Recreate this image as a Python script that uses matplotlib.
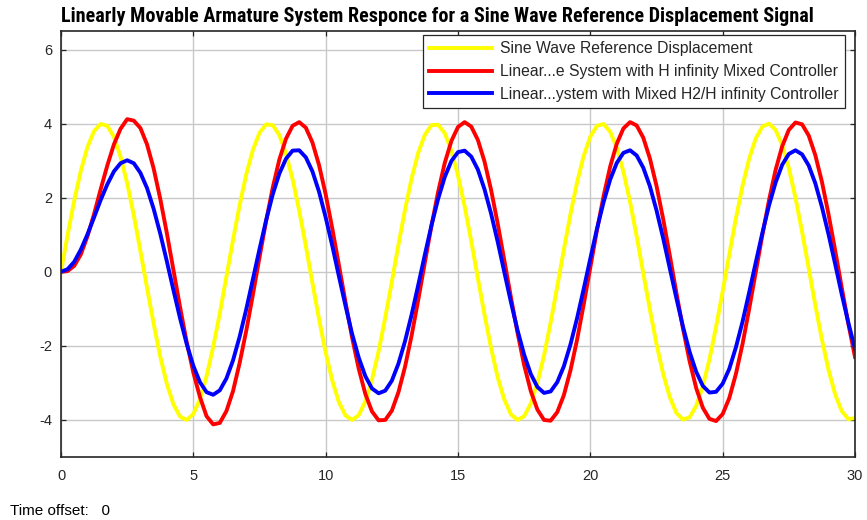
import numpy as np
import matplotlib
matplotlib.use('Agg')
import matplotlib.pyplot as plt
from matplotlib import font_manager

# sample times (s), step 0.25
time = np.round(np.arange(0, 30.0001, 0.25), 2)
yellow = [0,0.99,1.92,2.73,3.37,3.8,3.99,3.94,3.64,3.11,2.39,1.53,0.56,-0.43,-1.4,-2.29,-3.03,-3.58,-3.91,-4,-3.84,-3.44,-2.82,-2.03,-1.12,-0.13,0.86,1.8,2.63,3.29,3.75,3.98,3.96,3.69,3.19,2.5,1.65,0.7,-0.3,-1.28,-2.18,-2.94,-3.52,-3.88,-4,-3.87,-3.5,-2.91,-2.15,-1.24,-0.27,0.73,1.68,2.53,3.22,3.7,3.96,3.97,3.74,3.27,2.6,1.77,0.83,-0.17,-1.15,-2.06,-2.85,-3.45,-3.85,-4,-3.9,-3.56,-3,-2.26,-1.37,-0.4,0.6,1.56,2.42,3.13,3.65,3.94,3.99,3.78,3.35,2.7,1.89,0.96,-0.04,-1.02,-1.95,-2.75,-3.38,-3.81,-3.99,-3.93,-3.62,-3.09,-2.37,-1.49,-0.53,0.47,1.44,2.32,3.05,3.6,3.92,4,3.83,3.42,2.8,2,1.08,0.1,-0.9,-1.83,-2.65,-3.31,-3.76,-3.98,-3.95]
red = [0,0.02,0.16,0.47,0.96,1.56,2.23,2.87,3.44,3.86,4.12,4.08,3.88,3.44,2.79,1.97,1.04,0.04,-0.96,-1.9,-2.72,-3.38,-3.9,-4.12,-4.08,-3.76,-3.22,-2.46,-1.59,-0.62,0.39,1.37,2.27,3.03,3.59,3.94,4.04,3.89,3.49,2.88,2.09,1.17,0.18,-0.82,-1.78,-2.62,-3.3,-3.77,-4.01,-4,-3.75,-3.25,-2.56,-1.71,-0.75,0.26,1.25,2.16,2.94,3.53,3.91,4.04,3.92,3.56,2.98,2.21,1.3,0.31,-0.69,-1.65,-2.52,-3.22,-3.72,-4,-4.02,-3.79,-3.33,-2.66,-1.83,-0.88,0.12,1.12,2.04,2.84,3.46,3.87,4.04,3.95,3.62,3.06,2.32,1.43,0.45,-0.56,-1.53,-2.41,-3.14,-3.67,-3.97,-4.03,-3.84,-3.41,-2.76,-1.95,-1.01,-0.01,0.99,1.93,2.75,3.39,3.83,4.03,3.98,3.68,3.15,2.43,1.55,0.58,-0.43,-1.41,-2.3]
blue = [0,0.07,0.27,0.6,1.01,1.47,1.94,2.36,2.71,2.93,3.01,2.93,2.67,2.26,1.7,1.03,0.28,-0.5,-1.26,-1.95,-2.54,-2.98,-3.25,-3.32,-3.2,-2.88,-2.39,-1.75,-1.01,-0.2,0.61,1.39,2.09,2.65,3.05,3.27,3.28,3.09,2.71,2.16,1.47,0.7,-0.12,-0.92,-1.68,-2.32,-2.82,-3.15,-3.28,-3.21,-2.94,-2.48,-1.87,-1.15,-0.35,0.47,1.26,1.97,2.56,2.99,3.23,3.27,3.11,2.76,2.23,1.57,0.81,-0.01,-0.82,-1.58,-2.24,-2.76,-3.11,-3.27,-3.23,-2.98,-2.55,-1.96,-1.25,-0.46,0.36,1.16,1.88,2.49,2.94,3.21,3.28,3.14,2.81,2.31,1.66,0.91,0.1,-0.71,-1.48,-2.16,-2.7,-3.08,-3.26,-3.24,-3.02,-2.62,-2.04,-1.35,-0.56,0.25,1.05,1.79,2.41,2.89,3.18,3.28,3.17,2.87,2.39,1.75,1.01,0.21,-0.61,-1.38,-2.08]

series_labels = ['Sine Wave Reference Displacement',
                 'Linear...e System with H infinity Mixed Controller',
                 'Linear...ystem with Mixed H2/H infinity Controller']
x_ticks = [0, 5, 10, 15, 20, 25, 30]
y_ticks = [-4, -2, 0, 2, 4, 6]
title_text = 'Linearly Movable Armature System Responce for a Sine Wave Reference Displacement Signal'

def has_font(name):
    try:
        font_manager.findfont(font_manager.FontProperties(family=name), fallback_to_default=False)
        return True
    except Exception:
        return False

sans = 'Liberation Sans' if has_font('Liberation Sans') else 'DejaVu Sans'
narrow = sans
for cand in ['Roboto Condensed', 'Liberation Sans Narrow', 'Roboto']:
    if has_font(cand):
        narrow = cand
        break
plt.rcParams['font.family'] = [sans, 'DejaVu Sans']
plt.rcParams['axes.unicode_minus'] = False

W, H = 867, 520
fig = plt.figure(figsize=(W/100, H/100), dpi=100)
ax = fig.add_axes([61/W, 63/H, 794/W, 426/H])
ink = '#262626'
for ys, col, lab in zip([yellow, red, blue], ['#FFFF00', '#FF0000', '#0000FF'], series_labels):
    ax.plot(time, ys, color=col, lw=2.8, label=lab)
ax.set_xlim(0, 30); ax.set_ylim(-5, 6.5)
ax.set_xticks(x_ticks)
ax.set_yticks(y_ticks)
ax.grid(True, color='#c8c8c8', lw=1.0)
ax.set_axisbelow(True)
for sp in ax.spines.values():
    sp.set_color(ink); sp.set_linewidth(1.2)
ax.tick_params(direction='in', top=True, right=True, length=3.6, width=0.9, colors=ink, labelsize=10.5)
ax.tick_params(axis='x', pad=9)
ax.tick_params(axis='y', pad=6.5)

leg = ax.legend(loc='upper right', bbox_to_anchor=(845/W, 1-35/H), bbox_transform=fig.transFigure,
                borderaxespad=0, fancybox=False, framealpha=1, edgecolor=ink, fontsize=11.3,
                handlelength=4.0, handletextpad=0.5, labelspacing=0.5, borderpad=0.4)
leg.get_frame().set_linewidth(0.9)
for txt in leg.get_texts():
    txt.set_color(ink)

title = fig.text(437/W, 1-17/H, title_text, ha='center', va='center', fontweight='bold',
                 fontsize=10, family=narrow, color='black')
fig.canvas.draw()
wpx = title.get_window_extent().width
title.set_fontsize(10*751/wpx)

fig.text(10/W, 1-511/H, 'Time offset:   0', ha='left', va='center', fontsize=11, color='black')
fig.savefig('out.png', dpi=100)
